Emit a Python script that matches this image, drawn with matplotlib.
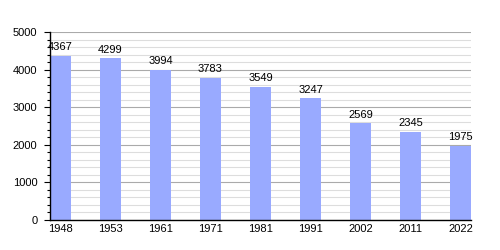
import matplotlib
matplotlib.use("Agg")
import matplotlib.pyplot as plt
from matplotlib.ticker import MultipleLocator

years = ["1948", "1953", "1961", "1971", "1981", "1991", "2002", "2011", "2022"]
population = [4367, 4299, 3994, 3783, 3549, 3247, 2569, 2345, 1975]

plt.rcParams['font.family'] = ['Liberation Sans', 'DejaVu Sans']
fig = plt.figure(figsize=(5, 2.5), dpi=100)
ax = fig.add_axes([0.1, 0.12, 0.842, 0.752])

width = 0.42
xs = list(range(len(years)))
ax.bar(xs, population, width=width, align='edge', color='#99aaff', zorder=3)
for x, v in zip(xs, population):
    ax.text(x + width / 2, v + 90, str(v), ha='center', va='bottom', fontsize=8, zorder=4)

ax.set_xlim(0, len(years) - 1 + width)
ax.set_ylim(0, 5000)
ax.set_xticks([x + width / 2 for x in xs])
ax.set_xticklabels(years, fontsize=8)
ax.yaxis.set_major_locator(MultipleLocator(1000))
ax.yaxis.set_minor_locator(MultipleLocator(200))
ax.tick_params(axis='y', labelsize=8, length=4, width=0.8, pad=5)
ax.tick_params(axis='y', which='minor', length=2, width=0.8)
ax.tick_params(axis='x', length=0, pad=3)
ax.grid(axis='y', which='major', color='#aaaaaa', linewidth=0.8, zorder=1)
ax.grid(axis='y', which='minor', color='#dddddd', linewidth=0.8, zorder=1)
for s in ['top', 'right']:
    ax.spines[s].set_visible(False)
for s in ['left', 'bottom']:
    ax.spines[s].set_linewidth(1.0)
    ax.spines[s].set_zorder(5)

fig.savefig("out.png", dpi=100)
